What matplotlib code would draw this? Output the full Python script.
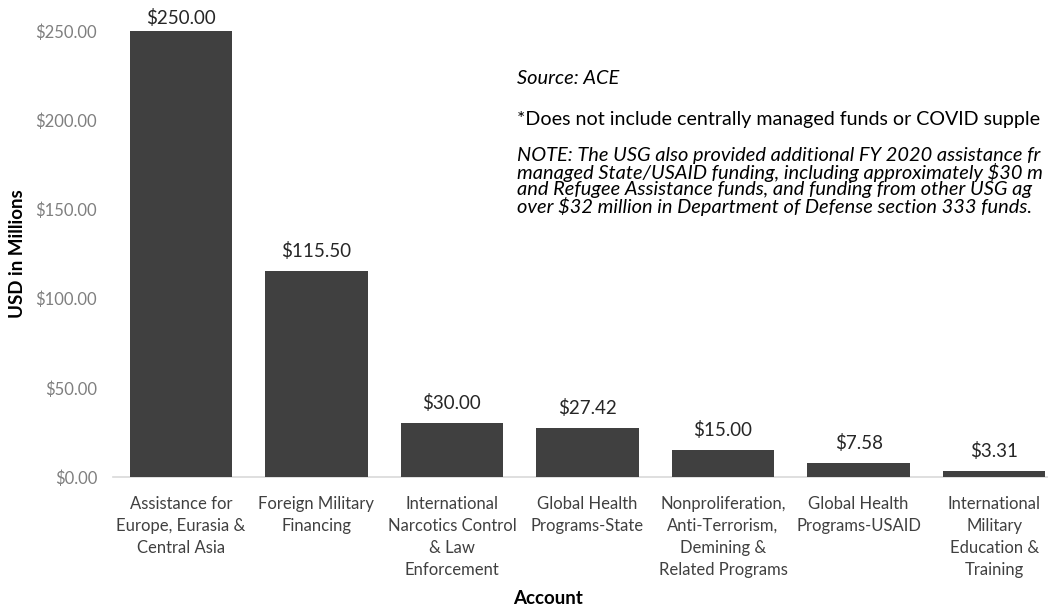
import matplotlib
matplotlib.use("Agg")
import matplotlib.pyplot as plt
from matplotlib.ticker import FuncFormatter

plt.rcParams['font.family'] = ['Lato', 'DejaVu Sans']

categories = [
    "Assistance for\nEurope, Eurasia &\nCentral Asia",
    "Foreign Military\nFinancing",
    "International\nNarcotics Control\n& Law\nEnforcement",
    "Global Health\nPrograms-State",
    "Nonproliferation,\nAnti-Terrorism,\nDemining &\nRelated Programs",
    "Global Health\nPrograms-USAID",
    "International\nMilitary\nEducation &\nTraining",
]
values = [250.00, 115.50, 30.00, 27.42, 15.00, 7.58, 3.31]
yticks = [0, 50, 100, 150, 200, 250]

source_text = "Source: ACE"
footnote_text = "*Does not include centrally managed funds or COVID supplem"
note_lines = [
    "NOTE: The USG also provided additional FY 2020 assistance fr",
    "managed State/USAID funding, including approximately $30 m",
    "and Refugee Assistance funds, and funding from other USG ag",
    "over $32 million in Department of Defense section 333 funds.",
]

W, H = 1048, 610
fig = plt.figure(figsize=(W / 100, H / 100), dpi=100)
ax = fig.add_axes([113/W, 133/H, (1062-113)/W, 446/H])

x = list(range(len(values)))
ax.bar(x, values, width=0.755, color='#404040', zorder=3)
vmax = max(values)
for xi, v in zip(x, values):
    off = 9.5 if v == vmax else 14.5
    ax.annotate(f"${v:,.2f}", (xi, v), xytext=(0, off), textcoords='offset points',
                ha='center', va='center', fontsize=13.5, color='#262626',
                annotation_clip=False)

ax.set_xlim(-0.5, len(values) - 0.5)
ax.set_ylim(0, 250)
ax.set_yticks(yticks)
ax.yaxis.set_major_formatter(FuncFormatter(lambda v, p: f"${v:,.2f}"))
ax.set_xticks(x)
ax.set_xticklabels(categories, fontsize=12, color='#404040', linespacing=1.48)
ax.tick_params(axis='y', length=0, labelsize=12, labelcolor='#7f7f7f', pad=11.5)
ax.tick_params(axis='x', length=0, pad=13.5)
for s in ['top', 'right', 'left']:
    ax.spines[s].set_visible(False)
ax.spines['bottom'].set_color('#d9d9d9')
ax.spines['bottom'].set_linewidth(1.2)

fig.text(18/W, 1 - 254/H, "USD in Millions", rotation=90, ha='center', va='center',
         fontsize=13.5, fontweight='bold', color='black')
fig.text(548/W, 1 - 598/H, "Account", ha='center', va='center',
         fontsize=13.5, fontweight='bold', color='black')

# fit annotation font sizes to the reference text widths
renderer = fig.canvas.get_renderer()
def width_px(s, size, style):
    t = fig.text(0, 0, s, fontsize=size, style=style)
    w = t.get_window_extent(renderer).width
    t.remove()
    return w

x0 = 517
fs_foot = 10 * (982 - x0) / width_px("*Does not include centrally managed funds or COVID ", 10, 'normal')
fs_note = 10 * (1028 - x0) / width_px("NOTE: The USG also provided additional FY 2020 assistance ", 10, 'italic')

def place(s, y, size, style):
    t = fig.text(x0/W, 1 - y/H, s, ha='left', va='center', fontsize=size,
                 style=style, color='black')
    while t.get_window_extent(renderer).x1 > W - 1 and len(s) > 1:
        s = s[:-1]
        t.set_text(s)
    return t

place(source_text, 79, fs_note, 'italic')
place(footnote_text, 119, fs_foot, 'normal')
for i, line in enumerate(note_lines):
    place(line, 156 + 17 * i, fs_note, 'italic')

fig.savefig("out.png", dpi=100)
